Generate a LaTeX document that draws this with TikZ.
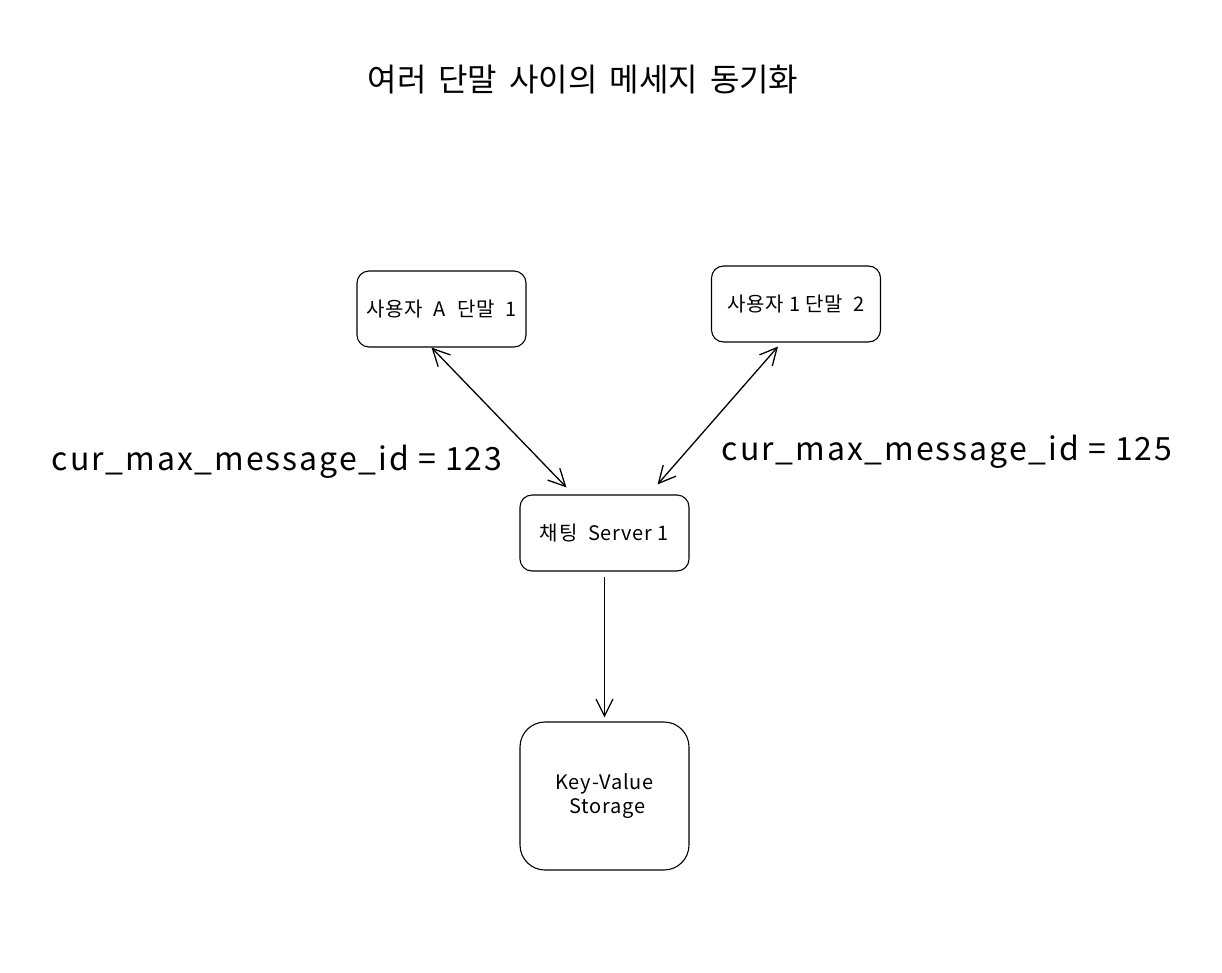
\documentclass[tikz,border=0pt]{standalone}
\usepackage{fontspec}
\setmainfont{Noto Sans CJK KR}
\usetikzlibrary{arrows.meta}

\begin{document}
\begin{tikzpicture}[x=1pt, y=-1pt,
    box/.style={draw, rounded corners=12pt, line width=1.1pt, minimum width=169pt, minimum height=76pt, inner sep=0pt, font=\fontsize{20}{24}\selectfont\addfontfeatures{LetterSpace=4}},
    link/.style={line width=1.3pt, -{Straight Barb[length=17pt, width=17pt]}},
    both/.style={line width=1.3pt, {Straight Barb[length=17pt, width=17pt]}-{Straight Barb[length=17pt, width=17pt]}},
    idlabel/.style={font=\fontsize{32}{36}\selectfont\addfontfeatures{LetterSpace=6}}]

        \useasboundingbox (0,0) rectangle (1222,972);

        % 제목
        \node[font=\fontsize{32}{36}\selectfont] (title) at (583,80) {여러\hspace{12pt}단말\hspace{12pt}사이의\hspace{12pt}메세지\hspace{12pt}동기화};

        % 단말
        \node[box] (A) at (441.5,309) {사용자\ \ \textit{A}\ \ 단말\ \ 1};
        \node[box] (B) at (796,304) {사용자\ 1\ 단말\ \ 2};

        % 서버와 저장소
        \node[box] (S) at (604.5,533) {채팅\ \ Server 1};
        \node[box, rounded corners=25pt, minimum height=148pt, align=center] (KV) at (604.5,796) {Key-Value\\ \ Storage};

        % 연결
        \draw[both] ([xshift=-10pt]A.south) -- ([xshift=-38pt, yshift=7pt]S.north);
        \draw[both] ([xshift=-18pt, yshift=-4pt]B.south) -- ([xshift=53pt, yshift=10pt]S.north);
        \draw[link] ([yshift=-5pt]S.south) -- ([yshift=4pt]KV.north);

        % 메시지 ID
        \node[idlabel] (idA) at (277,462) {cur\_max\_message\_id = 123};
        \node[idlabel] (idB) at (947,452) {cur\_max\_message\_id = 125};

    \end{tikzpicture}
\end{document}
